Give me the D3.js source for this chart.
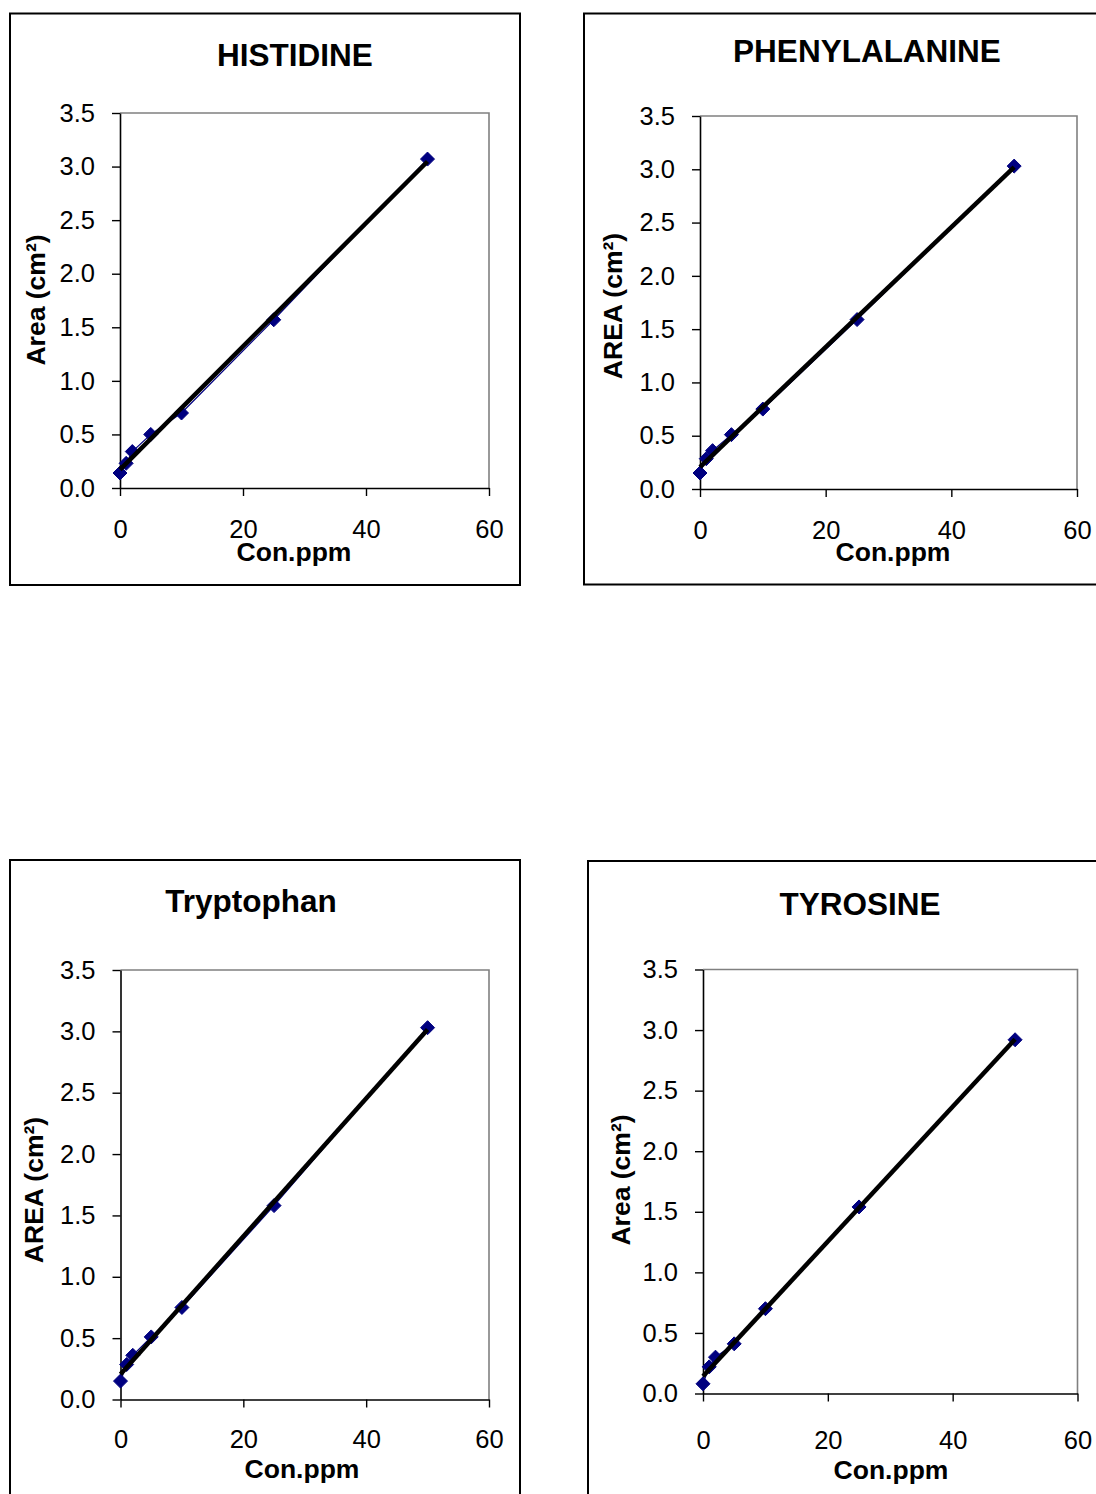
<!DOCTYPE html>
<html>
<head>
<meta charset="utf-8">
<script src="https://cdn.jsdelivr.net/npm/d3@7"></script>
<style>
  html, body { margin: 0; padding: 0; background: #fff; }
  svg { display: block; }
  text { font-family: "Liberation Sans", Arial, sans-serif; fill: #000; }
</style>
</head>
<body>
<svg id="chart" width="1096" height="1494"></svg>
<script>
// Calibration data: peak area (cm²) against concentration (ppm)
const concentrations = [0, 1, 2, 5, 10, 25, 50];
const histidineArea     = [0.14, 0.23, 0.34, 0.50, 0.70, 1.57, 3.07];
const phenylalanineArea = [0.15, 0.285, 0.36, 0.51, 0.75, 1.59, 3.03];
const tryptophanArea    = [0.15, 0.285, 0.36, 0.51, 0.75, 1.58, 3.03];
const tyrosineArea      = [0.08, 0.22, 0.30, 0.41, 0.70, 1.54, 2.92];

const chartTitles = ["HISTIDINE", "PHENYLALANINE", "Tryptophan", "TYROSINE"];
const yAxisTitles = ["Area (cm²)", "AREA (cm²)", "AREA (cm²)", "Area (cm²)"];
const xAxisTitle = "Con.ppm";
const yTicks = [0, 0.5, 1.0, 1.5, 2.0, 2.5, 3.0, 3.5];
const xTicks = [0, 20, 40, 60];

const seriesValues = [histidineArea, phenylalanineArea, tryptophanArea, tyrosineArea];

// Placement of each chart box on the page
const layout = [
  { frame: [10, 13.5, 510, 571.5], plot: [120, 489, 113, 488], title: [295, 66],
    yTitle: [45, 300], xTitle: [294, 561], xLabelDrop: 50 },
  { frame: [584, 13.5, 530, 571], plot: [700, 1077, 116, 489], title: [867, 61.5],
    yTitle: [622, 306], xTitle: [893, 561], xLabelDrop: 50 },
  { frame: [10, 860, 510, 700], plot: [120.5, 489, 970, 1399.5], title: [251, 912],
    yTitle: [43, 1190], xTitle: [302, 1478], xLabelDrop: 48 },
  { frame: [588, 861, 530, 700], plot: [703, 1077.5, 969.5, 1393.5], title: [860, 915],
    yTitle: [630, 1180], xTitle: [891, 1479], xLabelDrop: 55 }
];

const svg = d3.select("#chart");
const navy = "#000080";
const tickFont = 25.5;

// Least-squares linear trendline
function linearFit(xs, ys) {
  const mx = d3.mean(xs), my = d3.mean(ys);
  let sxy = 0, sxx = 0;
  xs.forEach((x, i) => { sxy += (x - mx) * (ys[i] - my); sxx += (x - mx) * (x - mx); });
  const slope = sxy / sxx;
  return { slope, intercept: my - slope * mx };
}

layout.forEach((L, i) => {
  const g = svg.append("g");
  const [left, right, top, bottom] = L.plot;
  const x = d3.scaleLinear().domain([0, 60]).range([left, right]);
  const y = d3.scaleLinear().domain([0, 3.5]).range([bottom, top]);
  const values = seriesValues[i];
  const pts = concentrations.map((c, k) => ({ c, v: values[k] }));

  // outer chart frame
  g.append("rect")
    .attr("x", L.frame[0]).attr("y", L.frame[1])
    .attr("width", L.frame[2]).attr("height", L.frame[3])
    .attr("fill", "#fff").attr("stroke", "#000").attr("stroke-width", 2);

  // plot-area border on top and right
  g.append("path")
    .attr("d", `M${left},${top}H${right}V${bottom}`)
    .attr("fill", "none").attr("stroke", "#808080").attr("stroke-width", 1.6);

  // y axis
  const yAxis = g.append("g")
    .attr("transform", `translate(${left},0)`)
    .call(d3.axisLeft(y).tickValues(yTicks).tickFormat(d3.format(".1f"))
      .tickSize(8).tickSizeOuter(0).tickPadding(17));
  // x axis
  const xAxis = g.append("g")
    .attr("transform", `translate(0,${bottom})`)
    .call(d3.axisBottom(x).tickValues(xTicks).tickFormat(d3.format("d"))
      .tickSize(8).tickSizeOuter(0).tickPadding(L.xLabelDrop - 8 - tickFont * 0.71));
  [yAxis, xAxis].forEach(a => {
    a.select(".domain").attr("stroke", "#000").attr("stroke-width", 1.6);
    a.selectAll(".tick line").attr("stroke", "#000").attr("stroke-width", 1.4);
    a.selectAll(".tick text")
      .attr("font-family", "Liberation Sans, Arial, sans-serif")
      .attr("font-size", tickFont).attr("fill", "#000");
  });

  // data series: thin connecting line and diamond markers
  g.append("path")
    .datum(pts)
    .attr("d", d3.line().x(d => x(d.c)).y(d => y(d.v)))
    .attr("fill", "none").attr("stroke", navy).attr("stroke-width", 1.2);
  const r = 7;
  g.selectAll(".marker").data(pts).join("path")
    .attr("class", "marker")
    .attr("d", d => {
      const cx = x(d.c), cy = y(d.v);
      return `M${cx},${cy - r}L${cx + r},${cy}L${cx},${cy + r}L${cx - r},${cy}Z`;
    })
    .attr("fill", navy).attr("stroke", navy).attr("stroke-width", 1)
    .attr("stroke-linejoin", "round");

  // linear trendline over the data range
  const fit = linearFit(concentrations, values);
  const xr = d3.extent(concentrations);
  g.append("line")
    .attr("x1", x(xr[0])).attr("y1", y(fit.intercept + fit.slope * xr[0]))
    .attr("x2", x(xr[1])).attr("y2", y(fit.intercept + fit.slope * xr[1]))
    .attr("stroke", "#000").attr("stroke-width", 4.5).attr("stroke-linecap", "butt");

  // titles
  g.append("text")
    .attr("x", L.title[0]).attr("y", L.title[1])
    .attr("text-anchor", "middle").attr("font-weight", "bold").attr("font-size", 31.5)
    .text(chartTitles[i]);
  g.append("text")
    .attr("transform", `translate(${L.yTitle[0]},${L.yTitle[1]}) rotate(-90)`)
    .attr("text-anchor", "middle").attr("font-weight", "bold").attr("font-size", 26.5)
    .text(yAxisTitles[i]);
  g.append("text")
    .attr("x", L.xTitle[0]).attr("y", L.xTitle[1])
    .attr("text-anchor", "middle").attr("font-weight", "bold").attr("font-size", 26.5)
    .text(xAxisTitle);
});
</script>
</body>
</html>
